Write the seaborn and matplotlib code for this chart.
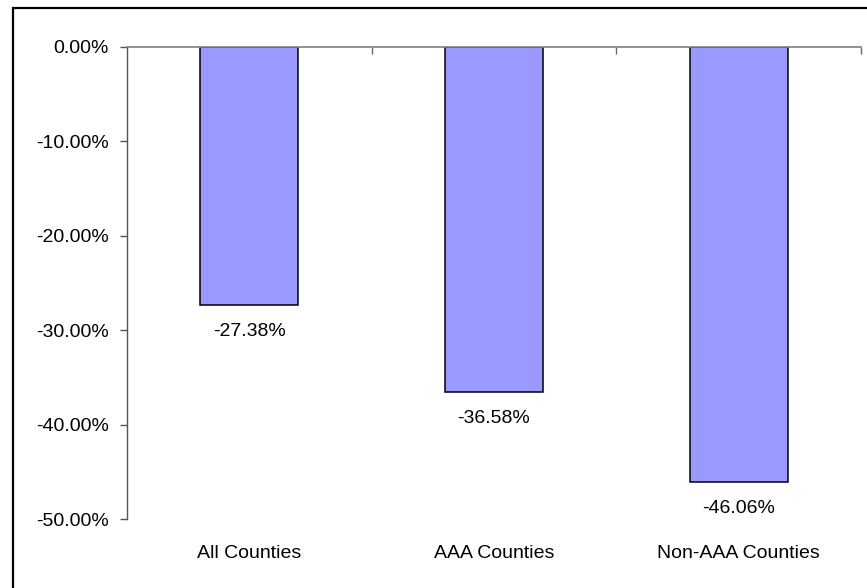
import matplotlib
matplotlib.use("Agg")
import matplotlib.pyplot as plt
from matplotlib.patches import Rectangle
from matplotlib.ticker import FuncFormatter, FixedLocator
import seaborn as sns
import pandas as pd

# Percent change by county group
categories = ["All Counties", "AAA Counties", "Non-AAA Counties"]
values = [-27.38, -36.58, -46.06]
y_ticks = [0, -10, -20, -30, -40, -50]

sns.set_theme(style="white")
plt.rcParams["font.family"] = ["Liberation Sans", "DejaVu Sans"]

FS = 14

df = pd.DataFrame({"group": categories, "change": values})

fig = plt.figure(figsize=(8.67, 5.88), dpi=100)
ax = fig.add_axes([127 / 867, 1 - 519 / 588, (861 - 127) / 867, (519 - 46.7) / 588])

sns.barplot(data=df, x="group", y="change", order=categories, color="#9999FF",
            saturation=1, edgecolor="black", linewidth=1.1, width=0.4, ax=ax)

ax.set_xlim(-0.5, len(categories) - 0.5)
ax.set_ylim(-50, 0)
ax.set_xlabel("")
ax.set_ylabel("")

# Value labels under each bar
for i, v in enumerate(values):
    ax.annotate(f"{v:.2f}%", xy=(i, v), xytext=(0, -13), textcoords="offset points",
                ha="center", va="top", fontsize=FS, color="black")

# Y axis
ax.set_yticks(y_ticks)
ax.yaxis.set_major_formatter(FuncFormatter(lambda y, _: f"{y:.2f}%"))
ax.tick_params(axis="y", which="major", left=True, direction="out", length=5,
               width=1, color="#555555", pad=8, labelsize=FS, labelcolor="black")

# Category labels at the bottom, boundary ticks on the zero line
ax.tick_params(axis="x", which="major", bottom=True, top=False, length=0, pad=19,
               labelsize=FS, labelcolor="black")
ax.xaxis.set_minor_locator(FixedLocator([0.5, 1.5, 2.5]))
ax.tick_params(axis="x", which="minor", top=True, bottom=False, direction="in",
               length=5, width=1, color="#666666")

for side in ["right", "bottom"]:
    ax.spines[side].set_visible(False)
ax.spines["top"].set_color("#808080")
ax.spines["top"].set_linewidth(1.2)
ax.spines["left"].set_color("#555555")
ax.spines["left"].set_linewidth(1.0)

# Chart-area frame
fig.add_artist(Rectangle((13 / 867, -0.1), 1.2, 1.1 - 8.5 / 588,
                         transform=fig.transFigure, fill=False,
                         edgecolor="black", linewidth=1.6, clip_on=False))

fig.savefig("out.png", dpi=100)
